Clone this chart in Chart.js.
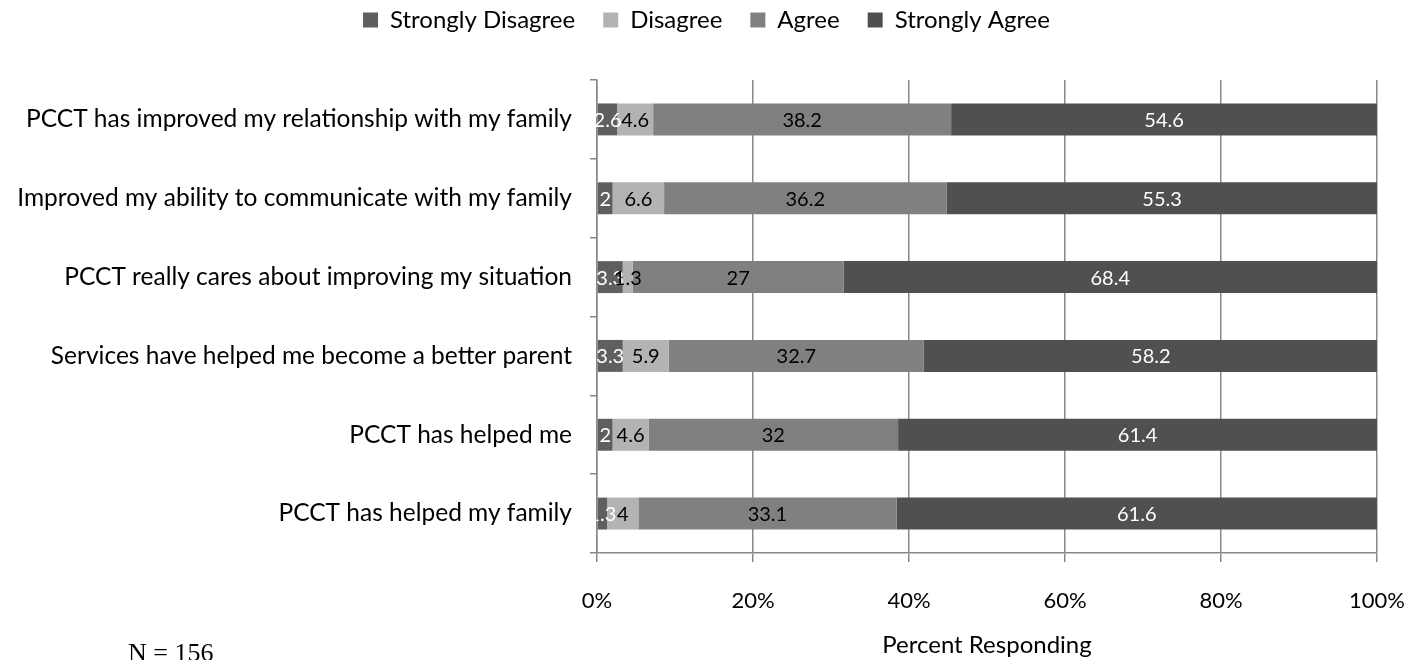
<!DOCTYPE html>
<html>
<head>
<meta charset="utf-8">
<script src="https://cdn.jsdelivr.net/npm/chart.js@4.4.1/dist/chart.umd.min.js"></script>
<style>
  html, body { margin: 0; padding: 0; background: #ffffff; }
  #wrap { width: 1424px; height: 660px; }
</style>
</head>
<body>
<div id="wrap"><canvas id="c" width="1424" height="660"></canvas></div>
<script>
// Survey statements (top to bottom)
const categories = [
  'PCCT has improved my relationship with my family',
  'Improved my ability to communicate with my family',
  'PCCT really cares about improving my situation',
  'Services have helped me become a better parent',
  'PCCT has helped me',
  'PCCT has helped my family'
];

// Percent of respondents per response level
const stronglyDisagree = [2.6, 2, 3.3, 3.3, 2, 1.3];
const disagree         = [4.6, 6.6, 1.3, 5.9, 4.6, 4];
const agree            = [38.2, 36.2, 27, 32.7, 32, 33.1];
const stronglyAgree    = [54.6, 55.3, 68.4, 58.2, 61.4, 61.6];

const seriesNames = ['Strongly Disagree', 'Disagree', 'Agree', 'Strongly Agree'];
const xTicks = [0, 20, 40, 60, 80, 100];

const FONT = 'Lato, "Open Sans", sans-serif';

const fills = ['#5f5f5f', '#b3b3b3', '#808080', '#505050'];
const labelColors = ['#ffffff', '#000000', '#000000', '#ffffff'];

const datasets = [stronglyDisagree, disagree, agree, stronglyAgree].map((vals, i) => ({
  label: seriesNames[i],
  data: vals,
  backgroundColor: fills[i],
  borderWidth: 0,
  barPercentage: 0.405,
  categoryPercentage: 1.0,
  labelColor: labelColors[i]
}));

// Writes each segment's value in the middle of the segment
const segmentLabels = {
  id: 'segmentLabels',
  afterDatasetsDraw(chart) {
    const ctx = chart.ctx;
    ctx.save();
    ctx.font = '20px ' + FONT;
    ctx.textAlign = 'center';
    ctx.textBaseline = 'middle';
    chart.data.datasets.forEach((ds, di) => {
      const meta = chart.getDatasetMeta(di);
      meta.data.forEach((bar, i) => {
        const v = ds.data[i];
        const cx = (bar.x + bar.base) / 2;
        ctx.fillStyle = ds.labelColor;
        ctx.fillText(String(v), cx, bar.y + 1);
      });
    });
    ctx.restore();
  }
};

// Keeps the legend near the top edge while leaving a gap above the plot
const legendSpacing = {
  id: 'legendSpacing',
  beforeInit(chart) {
    const fit = chart.legend.fit;
    chart.legend.fit = function () {
      fit.call(this);
      this.height += 18;
    };
  },
  afterLayout(chart) {
    const lg = chart.legend;
    lg.top -= 20;
    lg.bottom -= 20;
    lg.left += 18;
    lg.right += 18;
  }
};

// Sample size note in the lower left corner
const sampleNote = {
  id: 'sampleNote',
  afterDraw(chart) {
    const ctx = chart.ctx;
    ctx.save();
    ctx.font = '26px "Liberation Serif", "Times New Roman", serif';
    ctx.fillStyle = '#000000';
    ctx.textAlign = 'left';
    ctx.textBaseline = 'alphabetic';
    ctx.fillText('N = 156', 128, 661);
    ctx.restore();
  }
};

new Chart(document.getElementById('c'), {
  type: 'bar',
  data: { labels: categories, datasets },
  options: {
    indexAxis: 'y',
    responsive: false,
    animation: false,
    devicePixelRatio: 1,
    layout: { padding: { top: 0, right: 47, bottom: 0, left: 0 } },
    plugins: {
      legend: {
        position: 'top',
        labels: {
          font: { family: FONT, size: 24 },
          color: '#000000',
          boxWidth: 15,
          boxHeight: 15,
          padding: 28
        }
      },
      tooltip: { enabled: false }
    },
    scales: {
      x: {
        stacked: true,
        min: 0,
        max: 100,
        afterBuildTicks(scale) {
          scale.ticks = xTicks.map(v => ({ value: v }));
        },
        afterFit(scale) {
          scale.height = 107;
          scale.paddingLeft = 0;
          scale.paddingRight = 0;
        },
        ticks: {
          font: { family: FONT, size: 22 },
          color: '#000000',
          padding: 26,
          callback: v => v + '%'
        },
        grid: {
          color: '#888888',
          lineWidth: 1.5,
          tickLength: 9
        },
        border: { display: true, color: '#888888', width: 1.5 },
        title: {
          display: true,
          text: 'Percent Responding',
          font: { family: FONT, size: 24 },
          color: '#000000',
          padding: { top: 0, bottom: 0 }
        }
      },
      y: {
        stacked: true,
        afterFit(scale) { scale.width = 597; },
        ticks: {
          font: { family: FONT, size: 24.5 },
          color: '#000000',
          padding: 18
        },
        grid: {
          offset: true,
          drawOnChartArea: false,
          drawTicks: true,
          tickLength: 7,
          color: '#888888',
          lineWidth: 1.5
        },
        border: { display: true, color: '#888888', width: 1.5 }
      }
    }
  },
  plugins: [segmentLabels, legendSpacing, sampleNote]
});
</script>
</body>
</html>
